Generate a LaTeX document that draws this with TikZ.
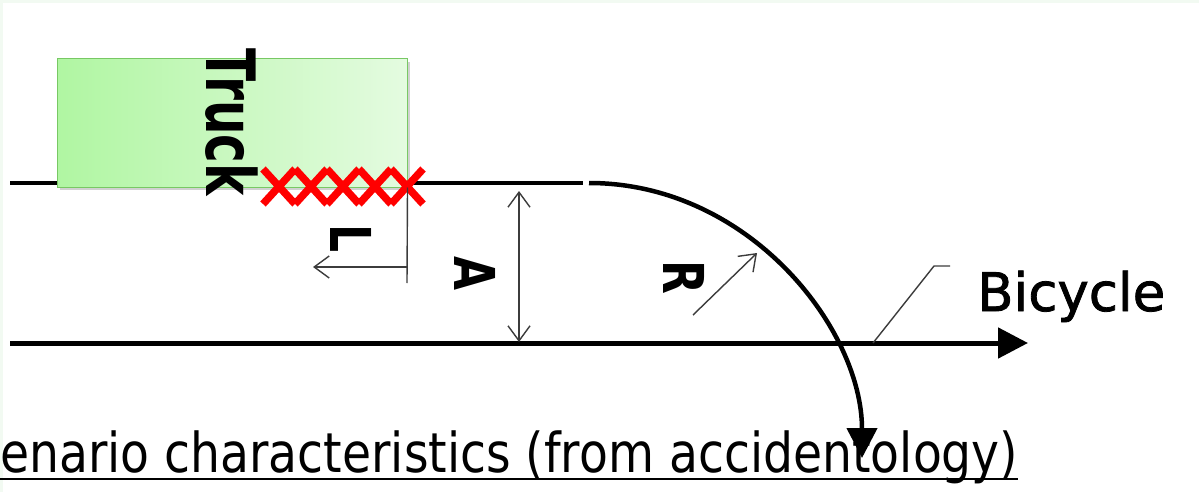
\documentclass[tikz,border=0pt]{standalone}
\usepackage{fontspec}
\setmainfont{DejaVu Sans}
\newfontfamily\bikefont[FakeBold=1.5]{DejaVu Sans}
\usepackage{graphicx}
\usetikzlibrary{arrows.meta}
\definecolor{bgg}{RGB}{242,250,242}
\definecolor{truckL}{RGB}{176,246,162}
\definecolor{truckR}{RGB}{228,251,224}
\definecolor{truckB}{RGB}{120,200,100}
\definecolor{thinC}{RGB}{60,60,60}
\begin{document}
\begin{tikzpicture}[x=1pt,y=-1pt,
  road/.style={line width=4.5pt,black},
  thinline/.style={line width=1.4pt,thinC},
  openhead/.style={-{Straight Barb[length=15pt,width=22pt,line width=1.4pt]}},
  bighead/.style={-{Triangle[length=30pt,width=30pt]}},
  crossmark/.style={line width=7.5pt,red},
  vlabel/.style={font=\bfseries\fontsize{44}{50}\selectfont,rotate=-90,inner sep=0pt},
  truckbox/.style={minimum width=350pt,minimum height=128pt,inner sep=0pt,
     left color=truckL,right color=truckR,draw=truckB,line width=1pt}]
\fill[bgg] (0,0) rectangle (1199,492);
\fill[white] (3,3) rectangle (1199,492);
\useasboundingbox (0,0) rectangle (1199,492);
% roads
\coordinate (tl0) at (10,183);
\coordinate (tl1) at (583,183);
\coordinate (arcS) at (589,183);
\coordinate (arcE) at (862,458);
\coordinate (bl0) at (10,343);
\coordinate (bl1) at (1028,343);
\draw[road] (tl0) -- (tl1);
\draw[road,line width=5pt,bighead] (bl0) -- (bl1);
% truck
\fill[black,opacity=0.18] (60,62) rectangle (410,190);
\node[truckbox] (truck) at (232,123) {};
\node[vlabel,font=\bfseries\fontsize{48.6}{55}\selectfont] (trucklbl) at (232,122) {\scalebox{1}[1.4]{Truck}};
% crosses
\foreach \c in {279,311,343,375,407}{
  \draw[crossmark] (\c-16,169) -- (\c+16,204);
  \draw[crossmark] (\c-16,204) -- (\c+16,169);
}
% L dimension
\coordinate (Lbase) at (407,283);
\coordinate (La) at (407,267);
\coordinate (Lb) at (313,267);
\draw[thinline] (truck.south east) -- (Lbase);
\draw[thinline,openhead] (La) -- (Lb);
\node[vlabel] (Llbl) at (351,239) {\scalebox{1}[1.28]{L}};
% A dimension
\coordinate (At) at (519,191);
\coordinate (Ab) at (519,342);
\draw[thinline,{Straight Barb[length=15pt,width=22pt,line width=1.4pt]}-{Straight Barb[length=15pt,width=22pt,line width=1.4pt]}] (At) -- (Ab);
\node[vlabel] (Albl) at (475,274) {\scalebox{1}[1.28]{A}};
% turning path
\draw[road,line width=4.5pt,bighead] (arcS) .. controls (749,183) and (862,329) .. (arcE);
% R
\coordinate (Rs) at (693,315);
\coordinate (Re) at (757,253);
\draw[thinline,openhead] (Rs) -- (Re);
\node[vlabel] (Rlbl) at (684,277) {\scalebox{1}[1.28]{R}};
% bicycle leader
\coordinate (bk0) at (873,343);
\coordinate (bk1) at (934,266);
\coordinate (bk2) at (950,266);
\draw[thinline] (bk0) -- (bk1) -- (bk2);
\node[anchor=base west,inner sep=0pt,font=\bikefont\fontsize{53}{60}\selectfont] (bike) at (977,311) {Bicycle};
% caption
\node[anchor=base west,inner sep=0pt,font=\fontsize{55}{62}\selectfont] (cap) at (0,472)
  {\resizebox{1018pt}{\height}{enario characteristics (from accidentology)}};
\draw[line width=2pt] (cap.base west) ++(0,7) -- ++(1018,0);
\end{tikzpicture}
\end{document}
